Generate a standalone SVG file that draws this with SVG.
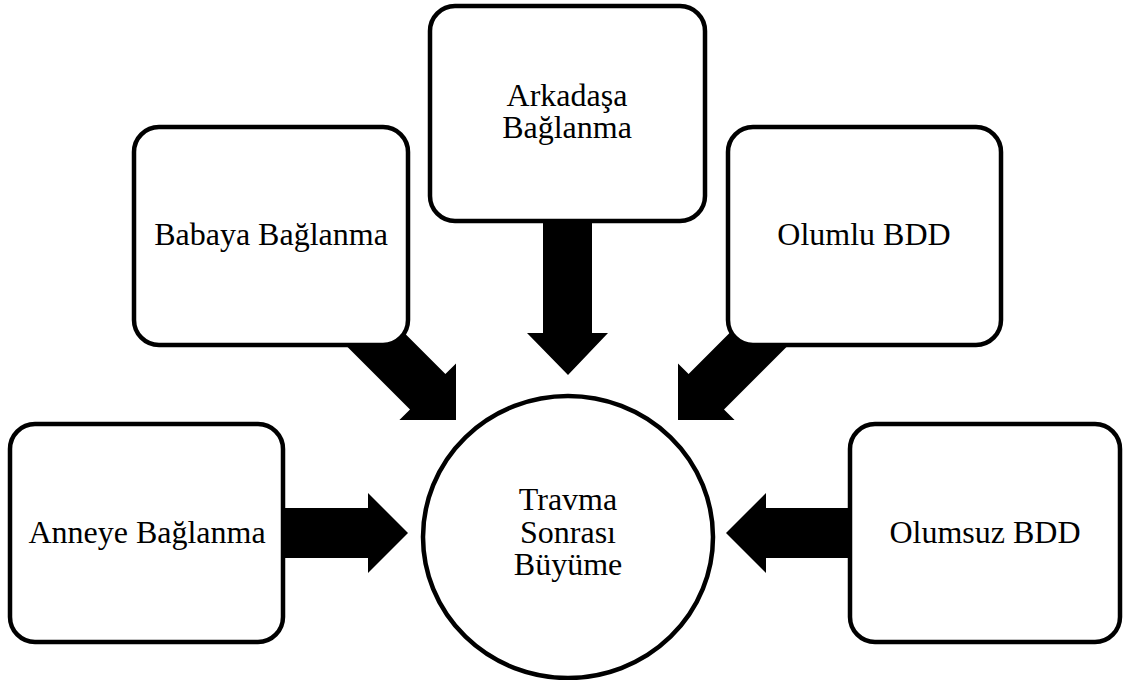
<svg xmlns="http://www.w3.org/2000/svg" width="1123" height="680" viewBox="0 0 1123 680">
<style>
.box{fill:#fff;stroke:#000;stroke-width:4.5}
.arr{fill:#000;stroke:none}
text{font-family:"Liberation Serif","Times New Roman",serif;font-size:32px;fill:#000;text-anchor:middle}
</style>
<rect width="1123" height="680" fill="#fff"/>
<g id="connectors">
<polygon class="arr" points="270,508 368,508 368,493 408,533 368,573 368,558 270,558"/>
<polygon class="arr" points="726,533 766,493 766,508 860,508 860,558 766,558 766,573"/>
<polygon class="arr" points="543,210 592,210 592,333 608,333 568,375 527,333 543,333"/>
<polygon class="arr" points="456,420 399.4,420 410,409.4 330,329.4 365.4,294 445.4,374 456,363.4"/>
<polygon class="arr" points="678,420 734.6,420 724,409.4 804,329.4 768.6,294 688.6,374 678,363.4"/>
</g>
<g id="arkadas">
<rect class="box" x="430" y="6" width="275" height="215" rx="25"/>
<text x="567" y="106">Arkadaşa</text>
<text x="567" y="138">Bağlanma</text>
</g>
<g id="baba">
<rect class="box" x="134" y="127" width="274" height="218" rx="25"/>
<text x="271" y="245">Babaya Bağlanma</text>
</g>
<g id="olumlu">
<rect class="box" x="728" y="127" width="273" height="218" rx="25"/>
<text x="864" y="245">Olumlu BDD</text>
</g>
<g id="anne">
<rect class="box" x="10" y="424" width="273" height="218" rx="25"/>
<text x="147" y="543">Anneye Bağlanma</text>
</g>
<g id="olumsuz">
<rect class="box" x="850" y="424" width="270" height="218" rx="25"/>
<text x="985" y="543">Olumsuz BDD</text>
</g>
<g id="tsb">
<ellipse class="box" cx="568" cy="537" rx="145" ry="141"/>
<text x="568" y="510">Travma</text>
<text x="568" y="543">Sonrası</text>
<text x="568" y="575">Büyüme</text>
</g>
</svg>
